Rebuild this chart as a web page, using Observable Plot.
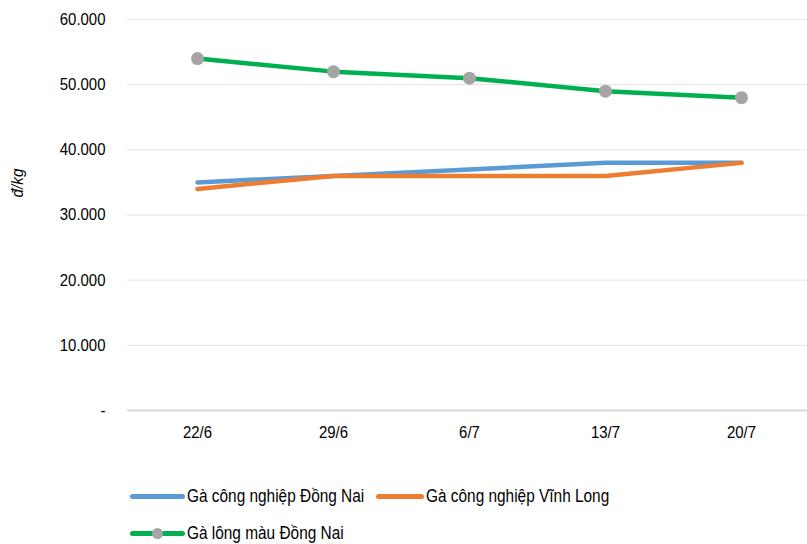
<!DOCTYPE html>
<html><head><meta charset="utf-8">
<script src="https://cdn.jsdelivr.net/npm/d3@7"></script>
<script src="https://cdn.jsdelivr.net/npm/@observablehq/plot@0.6"></script>
<style>
body{margin:0;background:#fff;font-family:"Liberation Sans",Arial,sans-serif;}
#wrap{position:relative;width:807px;height:544px;overflow:hidden;}
#ylab{position:absolute;left:18px;top:183px;transform:translate(-50%,-50%) rotate(-90deg) scaleX(0.9);font-style:italic;font-size:17px;color:#000;white-space:nowrap;}
.leg{position:absolute;font-size:17.5px;color:#000;display:flex;align-items:center;white-space:nowrap;}
.leg span{display:inline-block;transform:scaleX(0.88);transform-origin:left center;}
.sw{position:relative;height:5px;border-radius:3px;margin-right:2px;flex:none;}
.dot{position:absolute;width:11px;height:11px;border-radius:50%;background:#a5a5a5;top:-3px;left:50%;margin-left:-5.5px;}
</style></head>
<body><div id="wrap"><div id="chart"></div><div id="ylab"></div></div>
<script>
const dates = ["22/6","29/6","6/7","13/7","20/7"];
const seriesNames = ["Gà công nghiệp Đồng Nai","Gà công nghiệp Vĩnh Long","Gà lông màu Đồng Nai"];
const dongNaiCN = [35000,36000,37000,38000,38000];
const vinhLongCN = [34000,36000,36000,36000,38000];
const dongNaiLM = [54000,52000,51000,49000,48000];
const yTicks = [0,10000,20000,30000,40000,50000,60000];
const yLabel = "đ/kg";
const colors = ["#5b9bd5","#ed7d31","#00b050"];

const rows = [];
[dongNaiCN, vinhLongCN, dongNaiLM].forEach((arr,i)=>arr.forEach((v,j)=>rows.push({date:dates[j],value:v,series:seriesNames[i]})));
const fmt = d => d===0 ? "-" : d3.format(",")(d).replace(/,/g,".");

const chart = Plot.plot({
  width:807, height:450,
  marginTop:19, marginBottom:40, marginLeft:127, marginRight:0,
  style:{fontFamily:"'Liberation Sans',Arial,sans-serif", fontSize:"17px", color:"#000", background:"transparent"},
  x:{type:"point", domain:dates, padding:0.5, range:[128,810], label:null},
  y:{domain:[0,60000], label:null},
  color:{domain:seriesNames, range:colors},
  marks:[
    Plot.gridY(yTicks.filter(d=>d>0), {stroke:"#e3e3e3", strokeOpacity:1, strokeWidth:1}),
    Plot.ruleY([0], {stroke:"#d9d9d9", strokeWidth:2}),
    Plot.axisY(yTicks, {tickSize:0, tickPadding:22, tickFormat:fmt, fontSize:17, label:null}),
    Plot.axisX({tickSize:0, tickPadding:15, fontSize:17, label:null}),
    Plot.line(rows, {x:"date", y:"value", stroke:"series", z:"series", strokeWidth:4.5, strokeLinecap:"round", strokeLinejoin:"round"}),
    Plot.dot(rows.filter(d=>d.series===seriesNames[2]), {x:"date", y:"value", r:6.5, fill:"#a5a5a5", stroke:"none"})
  ]
});
d3.select(chart).selectAll("g[aria-label$='tick label'] text").each(function(){
  const t = this.getAttribute("transform") || "";
  this.setAttribute("transform", t + " scale(0.88,1)");
});
document.getElementById("chart").appendChild(chart);
document.getElementById("ylab").textContent = yLabel;

const legPos = [[130,497,55],[376,497,48],[130,534,55]];
seriesNames.forEach((s,i)=>{
  const d = document.createElement("div");
  d.className="leg";
  d.style.left=legPos[i][0]+"px";
  d.style.top=(legPos[i][1]-11)+"px";
  const sw = document.createElement("div");
  sw.className="sw"; sw.style.width=legPos[i][2]+"px"; sw.style.background=colors[i];
  if(i===2){const dt=document.createElement("div");dt.className="dot";sw.appendChild(dt);}
  d.appendChild(sw);
  const t=document.createElement("span"); t.textContent=s; d.appendChild(t);
  document.getElementById("wrap").appendChild(d);
});
</script></body></html>
